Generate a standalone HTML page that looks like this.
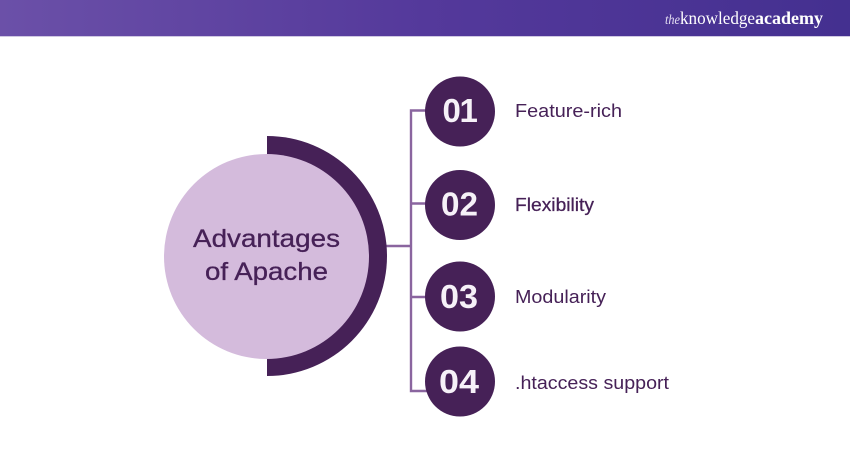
<!DOCTYPE html>
<html>
<head>
<meta charset="utf-8">
<style>
html,body{margin:0;padding:0;background:#fff;width:850px;height:450px;overflow:hidden}
svg{display:block}
</style>
</head>
<body>
<svg width="850" height="450" viewBox="0 0 850 450" xmlns="http://www.w3.org/2000/svg">
<defs>
<linearGradient id="hdr" x1="0" x2="1" y1="0" y2="0">
<stop offset="0" stop-color="#6b50a8"/>
<stop offset="0.5" stop-color="#54399b"/>
<stop offset="1" stop-color="#443090"/>
</linearGradient>
</defs>
<rect width="850" height="450" fill="#fff"/>
<rect width="850" height="36" fill="url(#hdr)"/>
<rect y="36" width="850" height="1" fill="#cfc8e2"/>
<g fill="#fff" font-family="'Liberation Serif',serif">
<text x="665" y="24" font-size="14" font-style="italic" textLength="15" lengthAdjust="spacingAndGlyphs" fill="#e4def2">the</text>
<text x="680" y="24" font-size="18" textLength="75" lengthAdjust="spacingAndGlyphs">knowledge</text>
<text x="755" y="24" font-size="18" font-weight="bold" textLength="68" lengthAdjust="spacingAndGlyphs">academy</text>
</g>
<g stroke="#8a659f" stroke-width="2.4" fill="none">
<path d="M386 246H411"/>
<path d="M430 110.500H411V391H430"/>
<path d="M411 203.500H430"/>
<path d="M411 297H430"/>
</g>
<path d="M267 136A120 120 0 0 1 267 376Z" fill="#462157"/>
<circle cx="266.500" cy="256.500" r="102.500" fill="#d4bbdc"/>
<g fill="#462157" font-family="'Liberation Sans',sans-serif" font-size="25">
<text x="193" y="247" textLength="147" lengthAdjust="spacingAndGlyphs" stroke="#462157" stroke-width="0.3">Advantages</text>
<text x="205" y="280" textLength="123" lengthAdjust="spacingAndGlyphs" stroke="#462157" stroke-width="0.3">of Apache</text>
</g>
<g fill="#462157">
<circle cx="460" cy="111.500" r="35"/>
<circle cx="460" cy="205" r="35"/>
<circle cx="460" cy="296.500" r="35"/>
<circle cx="460" cy="381.500" r="35"/>
</g>
<g fill="#f6f1f8" font-family="'Liberation Sans',sans-serif" font-weight="bold" font-size="33">
<text x="442.500 459.500" y="122">01</text>
<text x="441" y="215.500" textLength="37" lengthAdjust="spacingAndGlyphs">02</text>
<text x="440" y="308" textLength="38" lengthAdjust="spacingAndGlyphs">03</text>
<text x="439" y="393" textLength="40" lengthAdjust="spacingAndGlyphs">04</text>
</g>
<g fill="#462157" font-family="'Liberation Sans',sans-serif" font-size="18">
<text x="515" y="117" textLength="107" lengthAdjust="spacingAndGlyphs">Feature-rich</text>
<text x="515" y="211" textLength="79" lengthAdjust="spacingAndGlyphs" stroke="#462157" stroke-width="0.25">Flexibility</text>
<text x="515" y="303" textLength="91" lengthAdjust="spacingAndGlyphs">Modularity</text>
<text x="515" y="389" textLength="154" lengthAdjust="spacingAndGlyphs">.htaccess support</text>
</g>
</svg>
</body>
</html>
